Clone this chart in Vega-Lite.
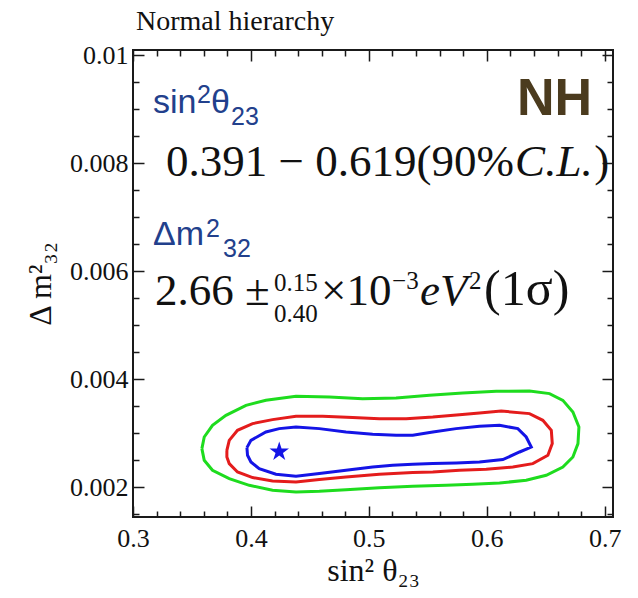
{
  "$schema": "https://vega.github.io/schema/vega-lite/v6.json",
  "width": 480,
  "height": 467,
  "autosize": "none",
  "padding": {"left": 133, "top": 50, "right": 25, "bottom": 81},
  "background": "white",
  "title": {"text": "Normal hierarchy", "anchor": "start", "frame": "group", "font": "Liberation Serif", "fontSize": 28, "fontWeight": "normal", "color": "#111", "offset": 6, "dx": 3},
  "config": {
    "view": {"stroke": "#1a1a1a", "strokeWidth": 2},
    "axis": {"grid": false, "domain": false, "labelFlush": false, "labelFont": "Liberation Serif", "labelFontSize": 26, "labelColor": "#111", "titleFont": "Liberation Serif", "titleFontSize": 32, "titleFontWeight": "normal", "titleColor": "#111", "tickColor": "#1a1a1a", "tickWidth": 1.5}
  },
  "datasets": {
    "contours": [
      {"contour": "1sigma", "i": 0, "s2t": 0.3966, "dm2": 0.002735},
      {"contour": "1sigma", "i": 1, "s2t": 0.4000, "dm2": 0.00287},
      {"contour": "1sigma", "i": 2, "s2t": 0.4127, "dm2": 0.003024},
      {"contour": "1sigma", "i": 3, "s2t": 0.4240, "dm2": 0.003087},
      {"contour": "1sigma", "i": 4, "s2t": 0.4382, "dm2": 0.003117},
      {"contour": "1sigma", "i": 5, "s2t": 0.4580, "dm2": 0.003087},
      {"contour": "1sigma", "i": 6, "s2t": 0.4806, "dm2": 0.003024},
      {"contour": "1sigma", "i": 7, "s2t": 0.5032, "dm2": 0.002981},
      {"contour": "1sigma", "i": 8, "s2t": 0.5231, "dm2": 0.002963},
      {"contour": "1sigma", "i": 9, "s2t": 0.5372, "dm2": 0.002963},
      {"contour": "1sigma", "i": 10, "s2t": 0.5542, "dm2": 0.003024},
      {"contour": "1sigma", "i": 11, "s2t": 0.5740, "dm2": 0.003087},
      {"contour": "1sigma", "i": 12, "s2t": 0.5938, "dm2": 0.00313},
      {"contour": "1sigma", "i": 13, "s2t": 0.6108, "dm2": 0.003148},
      {"contour": "1sigma", "i": 14, "s2t": 0.6263, "dm2": 0.003087},
      {"contour": "1sigma", "i": 15, "s2t": 0.6334, "dm2": 0.002932},
      {"contour": "1sigma", "i": 16, "s2t": 0.6377, "dm2": 0.002746},
      {"contour": "1sigma", "i": 17, "s2t": 0.6278, "dm2": 0.002654},
      {"contour": "1sigma", "i": 18, "s2t": 0.6136, "dm2": 0.002513},
      {"contour": "1sigma", "i": 19, "s2t": 0.5938, "dm2": 0.002469},
      {"contour": "1sigma", "i": 20, "s2t": 0.5740, "dm2": 0.00245},
      {"contour": "1sigma", "i": 21, "s2t": 0.5542, "dm2": 0.002439},
      {"contour": "1sigma", "i": 22, "s2t": 0.5372, "dm2": 0.002426},
      {"contour": "1sigma", "i": 23, "s2t": 0.5202, "dm2": 0.002407},
      {"contour": "1sigma", "i": 24, "s2t": 0.5032, "dm2": 0.002376},
      {"contour": "1sigma", "i": 25, "s2t": 0.4806, "dm2": 0.002315},
      {"contour": "1sigma", "i": 26, "s2t": 0.4580, "dm2": 0.002254},
      {"contour": "1sigma", "i": 27, "s2t": 0.4382, "dm2": 0.002204},
      {"contour": "1sigma", "i": 28, "s2t": 0.4212, "dm2": 0.002241},
      {"contour": "1sigma", "i": 29, "s2t": 0.4070, "dm2": 0.002346},
      {"contour": "1sigma", "i": 30, "s2t": 0.4000, "dm2": 0.002469},
      {"contour": "1sigma", "i": 31, "s2t": 0.3971, "dm2": 0.002593},
      {"contour": "1sigma", "i": 32, "s2t": 0.3966, "dm2": 0.002735},

      {"contour": "90CL", "i": 0, "s2t": 0.3796, "dm2": 0.002685},
      {"contour": "90CL", "i": 1, "s2t": 0.3816, "dm2": 0.00287},
      {"contour": "90CL", "i": 2, "s2t": 0.3886, "dm2": 0.003056},
      {"contour": "90CL", "i": 3, "s2t": 0.4014, "dm2": 0.00318},
      {"contour": "90CL", "i": 4, "s2t": 0.4183, "dm2": 0.003254},
      {"contour": "90CL", "i": 5, "s2t": 0.4382, "dm2": 0.003315},
      {"contour": "90CL", "i": 6, "s2t": 0.4608, "dm2": 0.003315},
      {"contour": "90CL", "i": 7, "s2t": 0.4862, "dm2": 0.003291},
      {"contour": "90CL", "i": 8, "s2t": 0.5089, "dm2": 0.003272},
      {"contour": "90CL", "i": 9, "s2t": 0.5316, "dm2": 0.003272},
      {"contour": "90CL", "i": 10, "s2t": 0.5542, "dm2": 0.003302},
      {"contour": "90CL", "i": 11, "s2t": 0.5768, "dm2": 0.003346},
      {"contour": "90CL", "i": 12, "s2t": 0.5938, "dm2": 0.003376},
      {"contour": "90CL", "i": 13, "s2t": 0.6122, "dm2": 0.003413},
      {"contour": "90CL", "i": 14, "s2t": 0.6362, "dm2": 0.003365},
      {"contour": "90CL", "i": 15, "s2t": 0.6475, "dm2": 0.003241},
      {"contour": "90CL", "i": 16, "s2t": 0.6547, "dm2": 0.003056},
      {"contour": "90CL", "i": 17, "s2t": 0.6555, "dm2": 0.002809},
      {"contour": "90CL", "i": 18, "s2t": 0.6518, "dm2": 0.002593},
      {"contour": "90CL", "i": 19, "s2t": 0.6390, "dm2": 0.002439},
      {"contour": "90CL", "i": 20, "s2t": 0.6221, "dm2": 0.002376},
      {"contour": "90CL", "i": 21, "s2t": 0.5995, "dm2": 0.002333},
      {"contour": "90CL", "i": 22, "s2t": 0.5768, "dm2": 0.002315},
      {"contour": "90CL", "i": 23, "s2t": 0.5542, "dm2": 0.002284},
      {"contour": "90CL", "i": 24, "s2t": 0.5372, "dm2": 0.002272},
      {"contour": "90CL", "i": 25, "s2t": 0.5089, "dm2": 0.002241},
      {"contour": "90CL", "i": 26, "s2t": 0.4806, "dm2": 0.002191},
      {"contour": "90CL", "i": 27, "s2t": 0.4580, "dm2": 0.002143},
      {"contour": "90CL", "i": 28, "s2t": 0.4382, "dm2": 0.002099},
      {"contour": "90CL", "i": 29, "s2t": 0.4183, "dm2": 0.002117},
      {"contour": "90CL", "i": 30, "s2t": 0.4014, "dm2": 0.00218},
      {"contour": "90CL", "i": 31, "s2t": 0.3886, "dm2": 0.002284},
      {"contour": "90CL", "i": 32, "s2t": 0.3816, "dm2": 0.002439},
      {"contour": "90CL", "i": 33, "s2t": 0.3796, "dm2": 0.002561},
      {"contour": "90CL", "i": 34, "s2t": 0.3796, "dm2": 0.002685},

      {"contour": "99CL", "i": 0, "s2t": 0.3584, "dm2": 0.002716},
      {"contour": "99CL", "i": 1, "s2t": 0.3604, "dm2": 0.002932},
      {"contour": "99CL", "i": 2, "s2t": 0.3674, "dm2": 0.003148},
      {"contour": "99CL", "i": 3, "s2t": 0.3788, "dm2": 0.003333},
      {"contour": "99CL", "i": 4, "s2t": 0.3958, "dm2": 0.003519},
      {"contour": "99CL", "i": 5, "s2t": 0.4127, "dm2": 0.003611},
      {"contour": "99CL", "i": 6, "s2t": 0.4382, "dm2": 0.003685},
      {"contour": "99CL", "i": 7, "s2t": 0.4665, "dm2": 0.003673},
      {"contour": "99CL", "i": 8, "s2t": 0.4947, "dm2": 0.003642},
      {"contour": "99CL", "i": 9, "s2t": 0.5231, "dm2": 0.003654},
      {"contour": "99CL", "i": 10, "s2t": 0.5514, "dm2": 0.003704},
      {"contour": "99CL", "i": 11, "s2t": 0.5796, "dm2": 0.003746},
      {"contour": "99CL", "i": 12, "s2t": 0.6080, "dm2": 0.003778},
      {"contour": "99CL", "i": 13, "s2t": 0.6362, "dm2": 0.003784},
      {"contour": "99CL", "i": 14, "s2t": 0.6532, "dm2": 0.003735},
      {"contour": "99CL", "i": 15, "s2t": 0.6645, "dm2": 0.003611},
      {"contour": "99CL", "i": 16, "s2t": 0.6730, "dm2": 0.003394},
      {"contour": "99CL", "i": 17, "s2t": 0.6781, "dm2": 0.003117},
      {"contour": "99CL", "i": 18, "s2t": 0.6773, "dm2": 0.002809},
      {"contour": "99CL", "i": 19, "s2t": 0.6730, "dm2": 0.002561},
      {"contour": "99CL", "i": 20, "s2t": 0.6645, "dm2": 0.002376},
      {"contour": "99CL", "i": 21, "s2t": 0.6504, "dm2": 0.002222},
      {"contour": "99CL", "i": 22, "s2t": 0.6334, "dm2": 0.00213},
      {"contour": "99CL", "i": 23, "s2t": 0.6108, "dm2": 0.00208},
      {"contour": "99CL", "i": 24, "s2t": 0.5881, "dm2": 0.002056},
      {"contour": "99CL", "i": 25, "s2t": 0.5655, "dm2": 0.002037},
      {"contour": "99CL", "i": 26, "s2t": 0.5372, "dm2": 0.002019},
      {"contour": "99CL", "i": 27, "s2t": 0.5089, "dm2": 0.001994},
      {"contour": "99CL", "i": 28, "s2t": 0.4806, "dm2": 0.001957},
      {"contour": "99CL", "i": 29, "s2t": 0.4580, "dm2": 0.001926},
      {"contour": "99CL", "i": 30, "s2t": 0.4382, "dm2": 0.001913},
      {"contour": "99CL", "i": 31, "s2t": 0.4183, "dm2": 0.001944},
      {"contour": "99CL", "i": 32, "s2t": 0.3986, "dm2": 0.002037},
      {"contour": "99CL", "i": 33, "s2t": 0.3816, "dm2": 0.002161},
      {"contour": "99CL", "i": 34, "s2t": 0.3674, "dm2": 0.002315},
      {"contour": "99CL", "i": 35, "s2t": 0.3604, "dm2": 0.0025},
      {"contour": "99CL", "i": 36, "s2t": 0.3584, "dm2": 0.002716}
    ],
    "bestfit": [{"s2t": 0.424, "dm2": 0.00266}],
    "blueMain": [
      {"label": "sin", "x": 0.3170, "y": 0.008933},
      {"label": "θ", "x": 0.3662, "y": 0.008933},
      {"label": "Δm", "x": 0.3170, "y": 0.006488}
    ],
    "blueSmall": [
      {"label": "2", "x": 0.3543, "y": 0.009118},
      {"label": "23", "x": 0.3831, "y": 0.008711},
      {"label": "2", "x": 0.3619, "y": 0.006636},
      {"label": "32", "x": 0.3763, "y": 0.006266}
    ],
    "serifMain": [
      {"label": "0.391 − 0.619(90%", "x": 0.3280, "y": 0.007766},
      {"label": ")", "x": 0.6910, "y": 0.007766},
      {"label": "2.66 ±", "x": 0.3187, "y": 0.005377},
      {"label": "×10", "x": 0.4595, "y": 0.005377}
    ],
    "serifLarge": [
      {"label": "(1σ)", "x": 0.5977, "y": 0.005377}
    ],
    "serifItalic": [
      {"label": "C.L.", "x": 0.6240, "y": 0.007766},
      {"label": "eV", "x": 0.5434, "y": 0.005377}
    ],
    "serifSmall": [
      {"label": "0.15", "x": 0.4196, "y": 0.005636},
      {"label": "0.40", "x": 0.4196, "y": 0.005062},
      {"label": "−3", "x": 0.5197, "y": 0.005673},
      {"label": "2", "x": 0.5850, "y": 0.005673}
    ],
    "tag": [{"label": "NH", "x": 0.6893, "y": 0.008896}]
  },
  "resolve": {"axis": {"x": "independent", "y": "independent"}},
  "layer": [
    {
      "data": {"name": "contours"},
      "mark": {"type": "line", "strokeWidth": 3},
      "encoding": {
        "x": {"field": "s2t", "type": "quantitative", "scale": {"domain": [0.3, 0.707], "nice": false, "zero": false},
          "axis": {"orient": "bottom", "values": [0.3, 0.32, 0.34, 0.36, 0.38, 0.4, 0.42, 0.44, 0.46, 0.48, 0.5, 0.52, 0.54, 0.56, 0.58, 0.6, 0.62, 0.64, 0.66, 0.68, 0.7],
            "labelExpr": "abs(datum.value * 10 - round(datum.value * 10)) < 0.001 ? format(datum.value, '.1f') : ''",
            "tickSize": {"condition": {"test": "abs(datum.value * 10 - round(datum.value * 10)) < 0.001", "value": -11}, "value": -6},
            "labelPadding": 19, "title": "sin² θ₂₃", "titlePadding": 4}},
        "y": {"field": "dm2", "type": "quantitative", "scale": {"domain": [0.00145, 0.0101], "nice": false, "zero": false},
          "axis": {"orient": "left", "values": [0.0015, 0.002, 0.0025, 0.003, 0.0035, 0.004, 0.0045, 0.005, 0.0055, 0.006, 0.0065, 0.007, 0.0075, 0.008, 0.0085, 0.009, 0.0095, 0.01],
            "labelExpr": "abs(datum.value * 500 - round(datum.value * 500)) < 0.001 ? format(datum.value, '.3~f') : ''",
            "tickSize": {"condition": {"test": "abs(datum.value * 500 - round(datum.value * 500)) < 0.001", "value": -11}, "value": -6},
            "labelPadding": 16, "title": "Δ m²₃₂", "titlePadding": 12}},
        "color": {"field": "contour", "type": "nominal", "scale": {"domain": ["1sigma", "90CL", "99CL"], "range": ["#1414e6", "#e41c1c", "#1edc1e"]}, "legend": null},
        "order": {"field": "i", "type": "quantitative"}
      }
    },
    {
      "data": {"name": "bestfit"},
      "mark": {"type": "point", "shape": "M0,-1L0.2245,-0.309L0.951,-0.309L0.363,0.118L0.588,0.809L0,0.382L-0.588,0.809L-0.363,0.118L-0.951,-0.309L-0.2245,-0.309Z", "filled": true, "size": 420, "color": "#1414e6", "opacity": 1},
      "encoding": {
        "x": {"field": "s2t", "type": "quantitative",
          "axis": {"orient": "top", "values": [0.3, 0.32, 0.34, 0.36, 0.38, 0.4, 0.42, 0.44, 0.46, 0.48, 0.5, 0.52, 0.54, 0.56, 0.58, 0.6, 0.62, 0.64, 0.66, 0.68, 0.7],
            "labels": false,
            "tickSize": {"condition": {"test": "abs(datum.value * 10 - round(datum.value * 10)) < 0.001", "value": -11}, "value": -6},
            "title": null}},
        "y": {"field": "dm2", "type": "quantitative",
          "axis": {"orient": "right", "values": [0.0015, 0.002, 0.0025, 0.003, 0.0035, 0.004, 0.0045, 0.005, 0.0055, 0.006, 0.0065, 0.007, 0.0075, 0.008, 0.0085, 0.009, 0.0095, 0.01],
            "labels": false,
            "tickSize": {"condition": {"test": "abs(datum.value * 500 - round(datum.value * 500)) < 0.001", "value": -11}, "value": -6},
            "title": null}}
      }
    },
    {
      "data": {"name": "blueMain"},
      "mark": {"type": "text", "align": "left", "baseline": "alphabetic", "font": "Liberation Sans", "fontSize": 34, "color": "#22408c"},
      "encoding": {
        "x": {"field": "x", "type": "quantitative", "axis": null},
        "y": {"field": "y", "type": "quantitative", "axis": null},
        "text": {"field": "label"}
      }
    },
    {
      "data": {"name": "blueSmall"},
      "mark": {"type": "text", "align": "left", "baseline": "alphabetic", "font": "Liberation Sans", "fontSize": 25, "color": "#22408c"},
      "encoding": {
        "x": {"field": "x", "type": "quantitative", "axis": null},
        "y": {"field": "y", "type": "quantitative", "axis": null},
        "text": {"field": "label"}
      }
    },
    {
      "data": {"name": "serifMain"},
      "mark": {"type": "text", "align": "left", "baseline": "alphabetic", "font": "Liberation Serif", "fontSize": 45, "color": "#111"},
      "encoding": {
        "x": {"field": "x", "type": "quantitative", "axis": null},
        "y": {"field": "y", "type": "quantitative", "axis": null},
        "text": {"field": "label"}
      }
    },
    {
      "data": {"name": "serifLarge"},
      "mark": {"type": "text", "align": "left", "baseline": "alphabetic", "font": "Liberation Serif", "fontSize": 50, "color": "#111"},
      "encoding": {
        "x": {"field": "x", "type": "quantitative", "axis": null},
        "y": {"field": "y", "type": "quantitative", "axis": null},
        "text": {"field": "label"}
      }
    },
    {
      "data": {"name": "serifItalic"},
      "mark": {"type": "text", "align": "left", "baseline": "alphabetic", "font": "Liberation Serif", "fontSize": 45, "fontStyle": "italic", "color": "#111"},
      "encoding": {
        "x": {"field": "x", "type": "quantitative", "axis": null},
        "y": {"field": "y", "type": "quantitative", "axis": null},
        "text": {"field": "label"}
      }
    },
    {
      "data": {"name": "serifSmall"},
      "mark": {"type": "text", "align": "left", "baseline": "alphabetic", "font": "Liberation Serif", "fontSize": 25, "color": "#111"},
      "encoding": {
        "x": {"field": "x", "type": "quantitative", "axis": null},
        "y": {"field": "y", "type": "quantitative", "axis": null},
        "text": {"field": "label"}
      }
    },
    {
      "data": {"name": "tag"},
      "mark": {"type": "text", "align": "right", "baseline": "alphabetic", "font": "Liberation Sans", "fontSize": 52, "fontWeight": "bold", "color": "#4b3b1e"},
      "encoding": {
        "x": {"field": "x", "type": "quantitative", "axis": null},
        "y": {"field": "y", "type": "quantitative", "axis": null},
        "text": {"field": "label"}
      }
    }
  ]
}
